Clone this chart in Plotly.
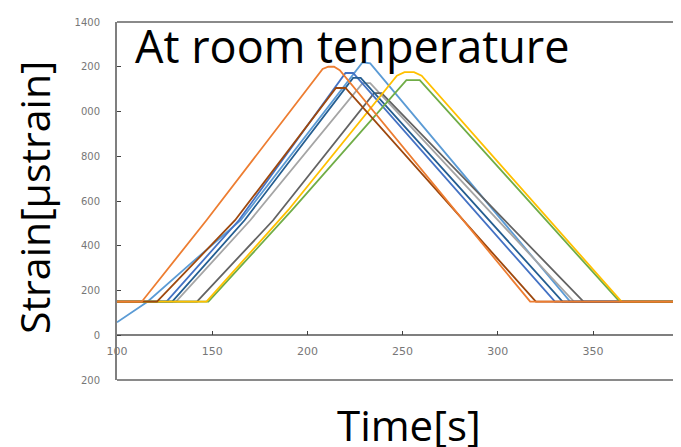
import plotly.graph_objects as go

# ---- data ----
lightblue_t = [100, 116, 140, 165, 229, 233, 338, 400]
lightblue_v = [58, 150, 330, 514, 1220, 1215, 150, 150]

orange_t = [100, 113, 147, 208, 211, 214, 217, 317, 400]
orange_v = [150, 150, 514, 1190, 1200, 1200, 1185, 150, 150]

gray_t = [100, 131, 170, 229, 233, 340, 400]
gray_v = [150, 150, 514, 1127, 1127, 150, 150]

yellow_t = [100, 147, 190, 247, 251, 256, 260, 365, 400]
yellow_v = [150, 150, 560, 1160, 1176, 1176, 1160, 150, 150]

blue_t = [100, 126, 164, 220, 224, 330, 400]
blue_v = [150, 150, 514, 1172, 1172, 150, 150]

green_t = [100, 148, 192, 252, 259, 364, 400]
green_v = [150, 150, 560, 1140, 1140, 150, 150]

darkblue_t = [100, 129, 167, 224, 228, 334, 400]
darkblue_v = [150, 150, 514, 1150, 1150, 150, 150]

brown_t = [100, 121, 162, 215, 220, 320, 400]
brown_v = [150, 150, 514, 1105, 1105, 150, 150]

darkgray_t = [100, 142, 182, 235, 239, 345, 400]
darkgray_v = [150, 150, 514, 1082, 1082, 150, 150]

series = [
    ("s1", lightblue_t, lightblue_v, "#5B9BD5"),
    ("s3", gray_t, gray_v, "#A5A5A5"),
    ("s9", darkgray_t, darkgray_v, "#636363"),
    ("s5", blue_t, blue_v, "#4472C4"),
    ("s7", darkblue_t, darkblue_v, "#255E91"),
    ("s6", green_t, green_v, "#70AD47"),
    ("s4", yellow_t, yellow_v, "#FFC000"),
    ("s8", brown_t, brown_v, "#9E480E"),
    ("s2", orange_t, orange_v, "#ED7D31"),
]

y_tickvals = [-200, 0, 200, 400, 600, 800, 1000, 1200, 1400]
y_ticktext = ["200", "0", "200", "400", "600", "800", "000", "200", "1400"]
x_tickvals = [100, 150, 200, 250, 300, 350]
x_ticktext = ["100", "150", "200", "250", "300", "350"]

fig = go.Figure()
for name, t, v, c in series:
    fig.add_trace(go.Scatter(x=t, y=v, mode="lines", name=name,
                             line=dict(color=c, width=1.8), showlegend=False))

# page body has an 8px default margin; size the figure so it ends at the window edge
O = 8
W, H = 681 - O, 447 - O
L, T, B = 117 - O, 22 - O, 67
plot_w = W - L
plot_h = H - T - B


def px_x(x):
    return (x - O - L) / plot_w


def px_y(y):
    return 1 - (y - O - T) / plot_h


fig.update_layout(
    width=W, height=H,
    margin=dict(l=L, r=0, t=T, b=B, pad=0, autoexpand=False),
    paper_bgcolor="white", plot_bgcolor="white",
    xaxis=dict(range=[100, 100 + plot_w / 1.904], showgrid=False, zeroline=False,
               tickvals=x_tickvals, ticktext=x_ticktext,
               anchor="free", position=0.125,
               showline=True, linecolor="#7f7f7f", linewidth=1.5,
               ticks="inside", ticklen=4, tickcolor="#404040", tickwidth=1,
               tickfont=dict(family="DejaVu Sans", size=11, color="#777777"),
               ticklabelstandoff=6),
    yaxis=dict(range=[-200, 1400], showgrid=False, zeroline=False,
               tickvals=y_tickvals, ticktext=y_ticktext,
               showline=True, linecolor="#7f7f7f", linewidth=2,
               ticks="inside", ticklen=4, tickcolor="#404040", tickwidth=1,
               tickfont=dict(family="DejaVu Sans", size=10, color="#777777"),
               ticklabelstandoff=13),
    shapes=[
        dict(type="line", xref="paper", yref="paper", x0=0, x1=1, y0=1, y1=1,
             line=dict(color="#8a8a8a", width=2)),
        dict(type="line", xref="paper", yref="paper", x0=0, x1=1, y0=0, y1=0,
             line=dict(color="#8a8a8a", width=2)),
    ],
    annotations=[
        dict(text="At room tenperature", xref="paper", yref="paper",
             x=px_x(133), y=px_y(45),
             xanchor="left", yanchor="middle", showarrow=False,
             font=dict(family="Open Sans", size=45, color="black")),
        dict(text="Time[s]", xref="paper", yref="paper",
             x=px_x(409), y=px_y(424),
             xanchor="center", yanchor="middle", showarrow=False,
             font=dict(family="Open Sans", size=42, color="black")),
        dict(text="Strain[μstrain]", xref="paper", yref="paper",
             x=px_x(34), y=px_y(197),
             xanchor="center", yanchor="middle", showarrow=False, textangle=-90,
             font=dict(family="Open Sans", size=41, color="black")),
        dict(text="400", xref="paper", yref="paper",
             x=px_x(690), y=px_y(353),
             xanchor="center", yanchor="middle", showarrow=False,
             font=dict(family="DejaVu Sans", size=11, color="#777777")),
    ],
)
fig.write_html("out.html")
